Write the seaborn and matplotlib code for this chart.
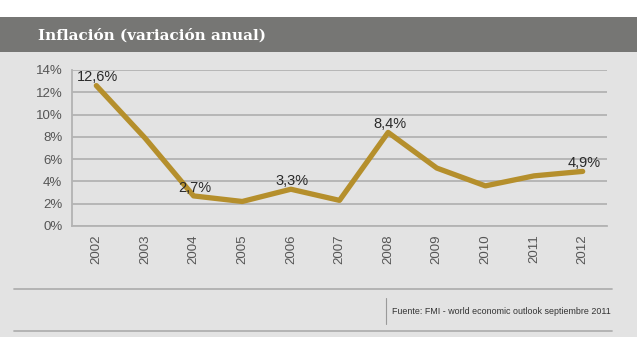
import matplotlib
matplotlib.use("Agg")
import matplotlib.pyplot as plt
import seaborn as sns
import pandas as pd
import numpy as np
from matplotlib.patches import Rectangle
from matplotlib.lines import Line2D

# data
years = ["2002", "2003", "2004", "2005", "2006", "2007", "2008", "2009", "2010", "2011", "2012"]
inflation = [12.6, 7.9, 2.7, 2.2, 3.3, 2.3, 8.4, 5.2, 3.6, 4.5, 4.9]
label_years = ["2002", "2004", "2006", "2008", "2012"]
label_texts = ["12,6%", "2,7%", "3,3%", "8,4%", "4,9%"]
y_ticks = [0, 2, 4, 6, 8, 10, 12, 14]

title = "Inflación (variación anual)"
source = "Fuente: FMI - world economic outlook septiembre 2011"

W, H = 640, 337
gold = "#b58f2c"
panel = "#e3e3e3"
grid = "#b3b3b3"
tick_col = "#555555"

sns.set_style("white")
plt.rcParams["font.family"] = ["Liberation Sans", "DejaVu Sans"]

df = pd.DataFrame({"year": years, "value": inflation})

fig = plt.figure(figsize=(W / 100, H / 100), dpi=100)
fig.patch.set_facecolor("white")

# background panel and header bar (figure coords)
fig.add_artist(Rectangle((0, 0), 637 / W, (H - 52) / H, transform=fig.transFigure,
                         facecolor=panel, edgecolor="none", zorder=0))
fig.add_artist(Rectangle((0, (H - 52) / H), 637 / W, 35 / H, transform=fig.transFigure,
                         facecolor="#767674", edgecolor="none", zorder=0))
fig.text(38 / W, (H - 35) / H, title, color="white", fontsize=11, fontweight="bold",
         family=["DejaVu Serif"], va="center", ha="left")

ax = fig.add_axes([72 / W, (H - 226) / H, (607 - 72) / W, (226 - 70) / H])
ax.set_facecolor(panel)

sns.lineplot(data=df, x="year", y="value", ax=ax, color=gold, linewidth=3.8,
             sort=False, zorder=3)

ax.set_xlim(-0.5, len(years) - 0.5)
ax.set_ylim(0, 14)
ax.set_yticks(y_ticks)
ax.set_yticklabels([f"{v}%" for v in y_ticks])
ax.set_xticks(range(len(years)))
ax.set_xticklabels(years, rotation=90)
ax.set_xticks(np.arange(-0.5, len(years), 1.0), minor=True)
ax.tick_params(axis="x", which="major", length=0, pad=6, labelsize=9.5, labelcolor=tick_col)
ax.tick_params(axis="x", which="minor", length=6, width=1.2, color=grid, direction="out")
ax.tick_params(axis="y", which="major", length=4, width=1.2, color=grid, pad=3,
               labelsize=9.5, labelcolor=tick_col)
ax.set_xlabel("")
ax.set_ylabel("")

ax.grid(axis="y", color=grid, linewidth=1.3)
ax.grid(axis="x", visible=False)
ax.set_axisbelow(True)
for s in ["top", "right"]:
    ax.spines[s].set_visible(False)
for s in ["left", "bottom"]:
    ax.spines[s].set_color(grid)
    ax.spines[s].set_linewidth(1.3)

for yr, txt in zip(label_years, label_texts):
    i = years.index(yr)
    ax.annotate(txt, (i, inflation[i]), xytext=(1, 1), textcoords="offset points",
                ha="center", va="bottom", fontsize=10.5, color="#2a2a2a",
                annotation_clip=False, zorder=4)

# footer lines and source
for yy in [289, 331]:
    fig.add_artist(Line2D([14 / W, 612 / W], [(H - yy) / H] * 2, transform=fig.transFigure,
                          color="#b0b0b0", linewidth=1.3))
fig.add_artist(Line2D([386 / W, 386 / W], [(H - 298) / H, (H - 324) / H],
                      transform=fig.transFigure, color="#9a9a9a", linewidth=0.8))
fig.text(611 / W, (H - 311) / H, source, fontsize=6.4, color="#333333",
         family=["Liberation Sans", "DejaVu Sans"], va="center", ha="right")

fig.savefig("out.png", dpi=100)
